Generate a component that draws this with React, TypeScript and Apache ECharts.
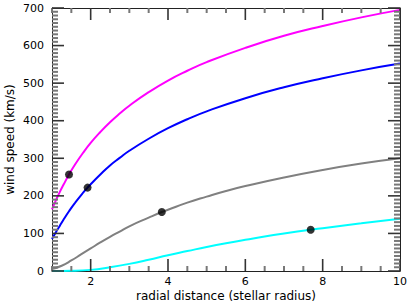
import React, { useEffect, useRef } from "react";
import * as echarts from "echarts";

const xMagenta = [1, 1.1, 1.2, 1.3, 1.44, 1.6, 1.8, 2, 2.25, 2.5, 2.75, 3, 3.5, 4, 4.5, 5, 6, 7, 8, 9, 10];
const yMagenta = [164, 188, 210, 230, 257, 284, 314, 341, 370, 396, 419, 440, 476, 507, 533, 556, 594, 626, 652, 675, 695];

const xBlue = [1, 1.1, 1.2, 1.3, 1.44, 1.6, 1.8, 1.92, 2, 2.25, 2.5, 2.75, 3, 3.5, 4, 4.5, 5, 6, 7, 8, 9, 10];
const yBlue = [85, 103, 120, 137, 159, 182, 208, 222, 231, 257, 281, 301, 320, 352, 380, 404, 425, 460, 489, 513, 534, 552];

const xGray = [1, 1.25, 1.5, 1.75, 2, 2.25, 2.5, 2.75, 3, 3.5, 3.84, 4, 4.5, 5, 5.5, 6, 7, 8, 9, 10];
const yGray = [5, 14, 28, 44, 60, 76, 91, 105, 119, 142, 157, 163, 182, 198, 213, 226, 249, 269, 286, 300];

const xCyan = [1, 1.5, 2, 2.5, 3, 3.5, 4, 4.5, 5, 5.5, 6, 6.5, 7, 7.69, 8, 9, 10];
const yCyan = [0, 0.5, 3, 10, 19, 30, 42, 53, 64, 74, 83, 92, 100, 110, 114, 127, 139];

const sonicX = [1.44, 1.92, 3.84, 7.69];
const sonicY = [257, 222, 157, 110];

const xMajorTicks = [2, 4, 6, 8, 10];
const xMinorTicks = [1, 1.5, 2.5, 3, 3.5, 4.5, 5, 5.5, 6.5, 7, 7.5, 8.5, 9, 9.5];
const yMajorTicks = [0, 100, 200, 300, 400, 500, 600, 700];
const yMinorStep = 10;
const xTitle = "radial distance (stellar radius)";
const yTitle = "wind speed (km/s)";

const pairs = (xs: number[], ys: number[]) => xs.map((x, i) => [x, ys[i]]);

export default function App() {
  const ref = useRef<HTMLDivElement>(null);
  useEffect(() => {
    const chart = echarts.init(ref.current!, null, { renderer: "svg" });
    const font = "DejaVu Sans";
    const lineCol = "#222";
    const majorCol = "#333";
    const minorCol = "#777";
    const X0 = 1, X1 = 10, Y0 = 0, Y1 = 700;
    const MAJ = 12, MIN_X = 5, MIN_Y = 6;

    chart.setOption({
      animation: false,
      backgroundColor: "#fff",
      grid: { left: 52, right: 7, top: 8, bottom: 32, outerBoundsMode: "none", containLabel: false },
      xAxis: [
        {
          type: "value",
          min: X0,
          max: X1,
          position: "bottom",
          name: xTitle,
          nameLocation: "middle",
          nameGap: 19,
          nameMoveOverlap: false,
          nameTextStyle: { color: "#000", fontFamily: font, fontSize: 12 },
          splitLine: { show: false },
          axisLine: { show: true, onZero: false, lineStyle: { color: lineCol, width: 1 } },
          axisTick: { show: false },
          axisLabel: {
            show: true,
            customValues: xMajorTicks,
            color: "#000",
            fontFamily: font,
            fontSize: 11,
            margin: 5,
          },
        },
        {
          type: "value",
          min: X0,
          max: X1,
          position: "top",
          splitLine: { show: false },
          axisLine: { show: true, onZero: false, lineStyle: { color: lineCol, width: 1 } },
          axisTick: { show: false },
          axisLabel: { show: false },
        },
      ],
      yAxis: [
        {
          type: "value",
          min: Y0,
          max: Y1,
          interval: 100,
          position: "left",
          name: yTitle,
          nameLocation: "middle",
          nameGap: 36,
          nameMoveOverlap: false,
          nameTextStyle: { color: "#000", fontFamily: font, fontSize: 12 },
          splitLine: { show: false },
          axisLine: { show: true, onZero: false, lineStyle: { color: lineCol, width: 1 } },
          axisTick: { show: false },
          axisLabel: { color: "#000", fontFamily: font, fontSize: 11, margin: 8 },
        },
        {
          type: "value",
          min: Y0,
          max: Y1,
          interval: 100,
          position: "right",
          splitLine: { show: false },
          axisLine: { show: true, onZero: false, lineStyle: { color: lineCol, width: 1 } },
          axisTick: { show: false },
          axisLabel: { show: false },
        },
      ],
      series: [
        { type: "line", data: pairs(xMagenta, yMagenta), smooth: true, showSymbol: false, lineStyle: { color: "#ff00ff", width: 2 }, z: 2 },
        { type: "line", data: pairs(xBlue, yBlue), smooth: true, showSymbol: false, lineStyle: { color: "#0000ff", width: 2 }, z: 2 },
        { type: "line", data: pairs(xGray, yGray), smooth: true, showSymbol: false, lineStyle: { color: "#808080", width: 2 }, z: 2 },
        { type: "line", data: pairs(xCyan, yCyan), smooth: true, showSymbol: false, lineStyle: { color: "#00ffff", width: 2 }, z: 2 },
        { type: "scatter", data: pairs(sonicX, sonicY), symbolSize: 8, itemStyle: { color: "#000" }, z: 5 },
      ],
    });

    // Tick marks placed through the chart's own coordinate conversion.
    const px = (x: number, y: number) => chart.convertToPixel({ xAxisIndex: 0, yAxisIndex: 0 }, [x, y]) as number[];
    const g: any[] = [];
    const addLine = (x1: number, y1: number, x2: number, y2: number, col: string, w: number) => {
      g.push({
        type: "polyline",
        shape: { points: [[x1, y1], [x2, y2]] },
        style: { stroke: col, lineWidth: w, fill: null },
        z: 100,
        silent: true,
      });
    };
    const xTick = (v: number, len: number, col: string, w: number) => {
      const b = px(v, Y0);
      const t = px(v, Y1);
      addLine(b[0], b[1], b[0], b[1] - len, col, w);
      addLine(t[0], t[1], t[0], t[1] + len, col, w);
    };
    const yTick = (v: number, len: number, col: string, w: number) => {
      const l = px(X0, v);
      const r = px(X1, v);
      addLine(l[0], l[1], l[0] + len, l[1], col, w);
      addLine(r[0], r[1], r[0] - len, r[1], col, w);
    };
    xMinorTicks.forEach((v) => xTick(v, MIN_X, minorCol, 2));
    xMajorTicks.forEach((v) => xTick(v, MAJ, majorCol, 1.6));
    for (let v = Y0; v <= Y1; v += yMinorStep) {
      if (v % 100 !== 0) yTick(v, MIN_Y, minorCol, 2);
    }
    yMajorTicks.forEach((v) => yTick(v, MAJ, majorCol, 1.6));
    chart.setOption({ graphic: g });

    return () => chart.dispose();
  }, []);
  return <div ref={ref} style={{ width: 407, height: 303, position: "absolute", left: 0, top: 0 }} />;
}
